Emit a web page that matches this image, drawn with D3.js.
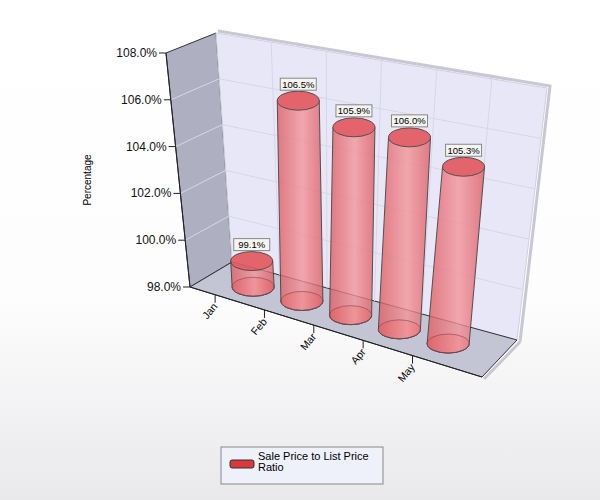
<!DOCTYPE html>
<html><head><meta charset="utf-8">
<script src="https://cdn.jsdelivr.net/npm/d3@7"></script>
<style>body{margin:0}svg{display:block}</style></head>
<body><svg width="600" height="500"></svg>
<script>
const categories = ["Jan","Feb","Mar","Apr","May"];
const values = [99.1,106.5,105.9,106.0,105.3];
const yTicks = [98,100,102,104,106,108];
const seriesName = "Sale Price to List Price Ratio";

const svg = d3.select("svg");
const defs = svg.append("defs");
const bg = defs.append("linearGradient").attr("id","bg").attr("x1",0).attr("y1",0).attr("x2",0).attr("y2",1);
bg.append("stop").attr("offset","0").attr("stop-color","#ffffff");
bg.append("stop").attr("offset","0.6").attr("stop-color","#fdfdfd");
bg.append("stop").attr("offset","1").attr("stop-color","#e9e9ec");
const cg = defs.append("linearGradient").attr("id","cyl").attr("x1",0).attr("y1",0).attr("x2",1).attr("y2",0);
cg.append("stop").attr("offset","0").attr("stop-color","#de5a60");
cg.append("stop").attr("offset","0.55").attr("stop-color","#f4959b");
cg.append("stop").attr("offset","1").attr("stop-color","#df5c62");
svg.append("rect").attr("width",600).attr("height",500).attr("fill","url(#bg)");

// projection corners
const C = {F0B:[190,287],F0T:[166,53],F1B:[482,377],F1T:[512,140],B0B:[232,262],B0T:[216,33],B1B:[517,340],B1T:[547,88]};
const lerp=(a,b,t)=>[a[0]+(b[0]-a[0])*t,a[1]+(b[1]-a[1])*t];
function P(t,v,z){
  const f0=lerp(C.F0B,C.F0T,v), f1=lerp(C.F1B,C.F1T,v), b0=lerp(C.B0B,C.B0T,v), b1=lerp(C.B1B,C.B1T,v);
  return lerp(lerp(f0,f1,t),lerp(b0,b1,t),z);
}
const y = d3.scaleLinear().domain([98,108]).range([0,1]);
const x = d3.scalePoint().domain(categories).range([0.146,0.822]);
const poly = pts => "M"+pts.map(p=>p.join(",")).join("L")+"Z";
const line = pts => "M"+pts.map(p=>p.join(",")).join("L");

// walls
svg.append("path").attr("d",poly([P(0,0,0),P(0,1,0),P(0,1,1),P(0,0,1)])).attr("fill","#aeafc0").attr("stroke","#333").attr("stroke-width",1);
svg.append("path").attr("d",poly([P(0,0,1),P(0,1,1),P(1,1,1),P(1,0,1)])).attr("fill","#e7e7f8").attr("stroke","#cfd0dc").attr("stroke-width",1);
svg.append("path").attr("d",line([[P(0,1,1)[0]+2,P(0,1,1)[1]-2],[P(1,1,1)[0]+3,P(1,1,1)[1]-2],[P(1,0,1)[0]+3,P(1,0,1)[1]+2]]))
  .attr("fill","none").attr("stroke","#c8c8d4").attr("stroke-width",3);
// floor
svg.append("path").attr("d",poly([P(0,0,0),P(1,0,0),P(1,0,1),P(0,0,1)])).attr("fill","#c3c4d4").attr("stroke","#333").attr("stroke-width",1);
svg.append("path").attr("d",line([[P(1,0,0)[0]+2,P(1,0,0)[1]+2],[P(1,0,1)[0]+3,P(1,0,1)[1]+2]])).attr("stroke","#c8c8d4").attr("stroke-width",3);
// gridlines
yTicks.slice(1,-1).forEach(v=>{
  svg.append("path").attr("d",line([P(0,y(v),0),P(0,y(v),1),P(1,y(v),1)]))
    .attr("fill","none").attr("stroke","#d6d7e6").attr("stroke-width",1);
});
[1,2,3,4,5].forEach(k=>{
  svg.append("path").attr("d",line([P(k/6,0,1),P(k/6,1,1)])).attr("stroke","#d6d7e6");
});
svg.append("path").attr("d",line([P(0,0,0),P(0,1,0)])).attr("stroke","#222");
svg.append("path").attr("d",line([P(0,0,0),P(1,0,0)])).attr("stroke","#222");
yTicks.forEach(v=>{
  const p=P(0,y(v),0);
  svg.append("line").attr("x1",p[0]-7).attr("x2",p[0]).attr("y1",p[1]).attr("y2",p[1]).attr("stroke","#222");
  svg.append("text").attr("x",p[0]-9).attr("y",p[1]+4).attr("text-anchor","end")
    .attr("font-family","Liberation Sans, Arial").attr("font-size",12).attr("fill","#111").text(v.toFixed(1)+"%");
});
svg.append("text").attr("transform","translate(91,180) rotate(-90)").attr("text-anchor","middle")
  .attr("font-family","Liberation Sans, Arial").attr("font-size",10).text("Percentage");
categories.forEach(c=>{
  const p=P(x(c)-0.06,0,0);
  svg.append("line").attr("x1",p[0]).attr("x2",p[0]).attr("y1",p[1]).attr("y2",p[1]+8).attr("stroke","#222");
  svg.append("text").attr("transform",`translate(${p[0]+3},${p[1]+12}) rotate(-50)`).attr("text-anchor","end")
    .attr("font-family","Liberation Sans, Arial").attr("font-size",10.5).text(c);
});
// cylinders
const rx=21, ry=9.5;
categories.forEach((c,i)=>{
  const b=P(x(c),0,0.5), t=P(x(c),y(values[i]),0.5);
  const g=svg.append("g").attr("opacity",0.92);
  g.append("ellipse").attr("cx",b[0]).attr("cy",b[1]).attr("rx",rx).attr("ry",ry).attr("fill","#e8767b").attr("stroke","#444");
  g.append("path").attr("d",`M${t[0]-rx},${t[1]}L${b[0]-rx},${b[1]}A${rx},${ry} 0 0 0 ${b[0]+rx},${b[1]}L${t[0]+rx},${t[1]}Z`)
    .attr("fill","url(#cyl)").attr("fill-opacity",0.85).attr("stroke","#444");
  g.append("ellipse").attr("cx",b[0]).attr("cy",b[1]).attr("rx",rx).attr("ry",ry).attr("fill","none").attr("stroke","#8a3a3e").attr("stroke-opacity",0.5);
  g.append("ellipse").attr("cx",t[0]).attr("cy",t[1]).attr("rx",rx).attr("ry",ry).attr("fill","#e35a60").attr("stroke","#444");
  const lbl=values[i].toFixed(1)+"%";
  const lx=t[0], ly=t[1]-ry-2;
  svg.append("rect").attr("x",lx-18).attr("y",ly-11).attr("width",36).attr("height",12).attr("fill","#f4f4f0").attr("stroke","#888");
  svg.append("text").attr("x",lx).attr("y",ly-1.5).attr("text-anchor","middle")
    .attr("font-family","Liberation Sans, Arial").attr("font-size",9.5).text(lbl);
});
// legend
svg.append("rect").attr("x",221).attr("y",447).attr("width",162).attr("height",37).attr("fill","#eef0fa").attr("stroke","#888");
svg.append("rect").attr("x",230).attr("y",460).attr("width",24).attr("height",8).attr("rx",2).attr("fill","#d9383f").attr("stroke","#333");
svg.append("text").attr("font-family","Liberation Sans, Arial").attr("font-size",11)
  .selectAll("tspan").data(["Sale Price to List Price","Ratio"]).join("tspan")
  .attr("x",258).attr("y",(d,i)=>460+i*11).text(d=>d);
</script></body></html>
